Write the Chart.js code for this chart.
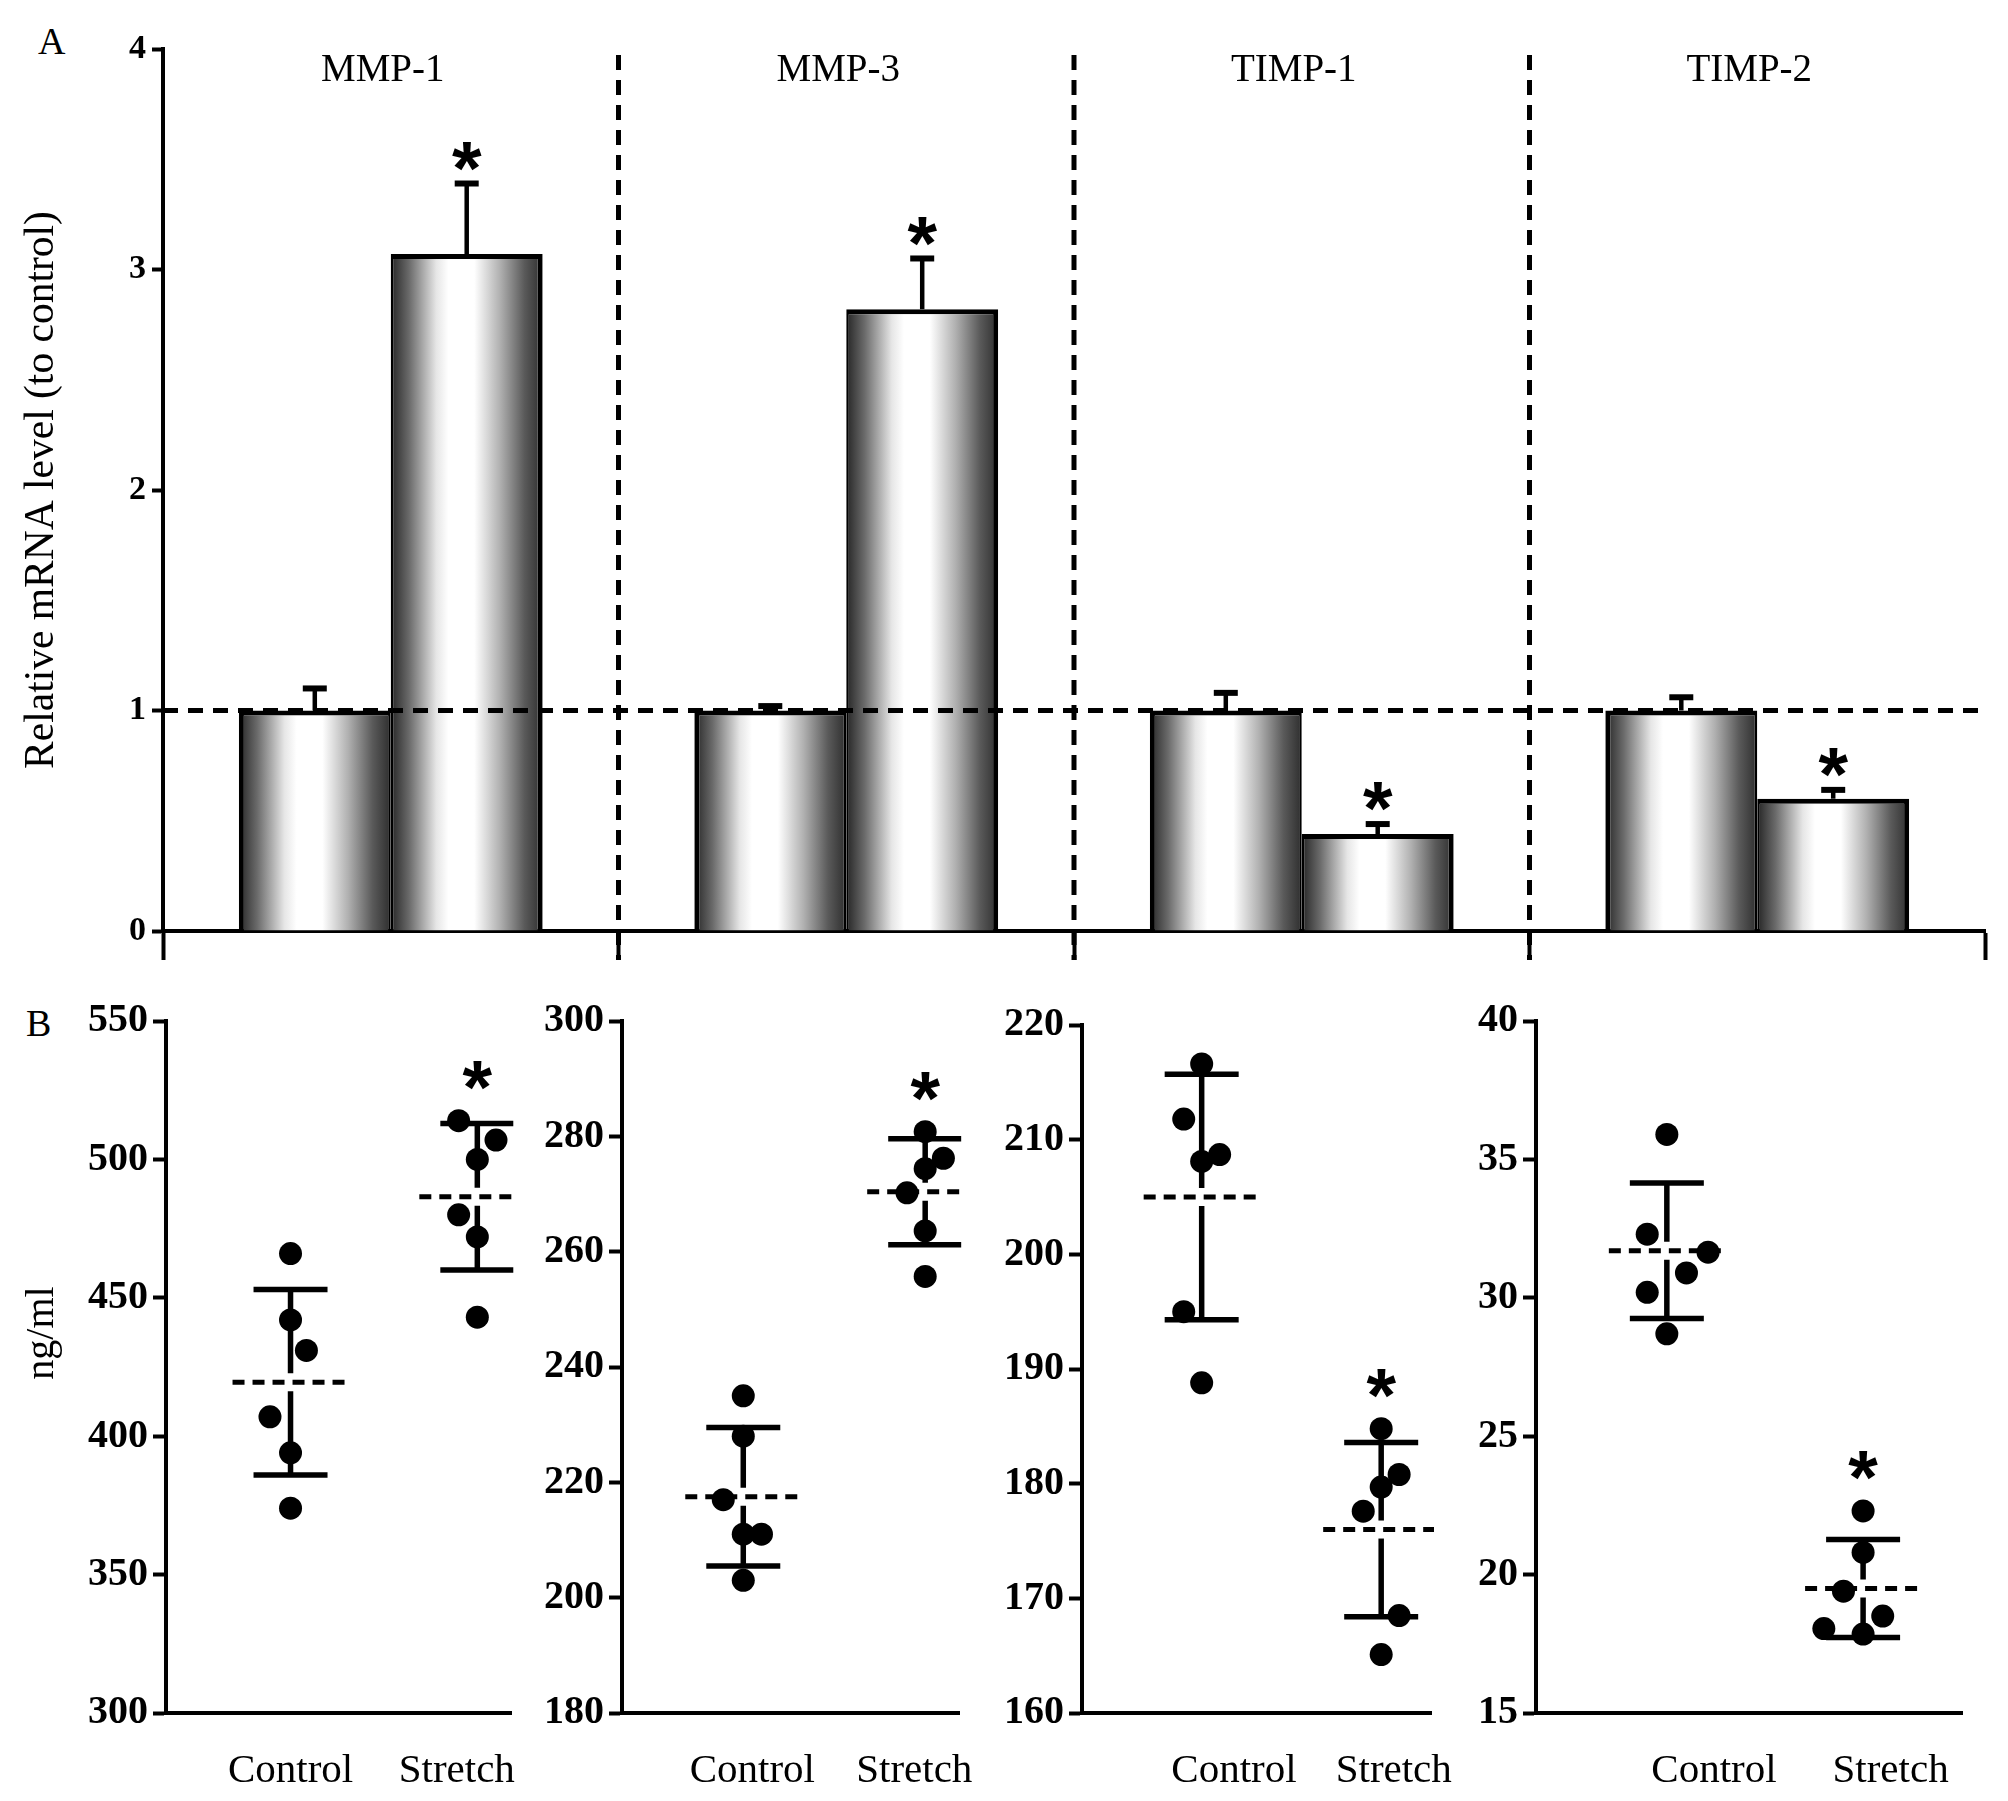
<!DOCTYPE html>
<html>
<head>
<meta charset="utf-8">
<title>MMP / TIMP mRNA and protein</title>
<script src="https://cdn.jsdelivr.net/npm/chart.js@4.4.0/dist/chart.umd.min.js"></script>
<style>
  html, body { margin: 0; padding: 0; background: #fff; }
  #page { position: relative; width: 2008px; height: 1801px; overflow: hidden; background: #fff; }
  canvas { position: absolute; }
  .panel { position: absolute; font-family: "Liberation Serif", serif; font-size: 38px; color: #000; line-height: 1; }
</style>
</head>
<body>
<div id="page">
  <div class="panel" style="left:38px; top:22px;">A</div>
  <div class="panel" style="left:26px; top:1004px;">B</div>
  <canvas id="mrna" width="2008" height="990" style="left:0; top:0;"></canvas>
</div>
<script>
// ---- data: panel A, relative mRNA level (to control) ----
const genes = ['MMP-1', 'MMP-3', 'TIMP-1', 'TIMP-2'];
const mrnaControl = [1.00, 1.00, 1.00, 1.00];
const mrnaControlErr = [0.10, 0.02, 0.08, 0.06];
const mrnaStretch = [3.07, 2.82, 0.44, 0.60];
const mrnaStretchErr = [0.32, 0.23, 0.045, 0.04];
const mrnaStretchSig = [true, true, true, true];
const mrnaTicks = [0, 1, 2, 3, 4];

// ---- data: panel B, protein (ng/ml), one sub-plot per gene ----
const groups = ['Control', 'Stretch'];
const elisaUnit = 'ng/ml';
const elisaTicks = [
  [300, 350, 400, 450, 500, 550],
  [180, 200, 220, 240, 260, 280, 300],
  [160, 170, 180, 190, 200, 210, 220],
  [15, 20, 25, 30, 35, 40]
];
const controlValues = [
  [466, 442, 431, 407, 394, 374],
  [235, 228, 217, 211, 211, 203],
  [216.6, 211.8, 208.7, 208.1, 195.0, 188.8],
  [35.9, 32.3, 31.65, 30.9, 30.2, 28.7]
];
const controlJitter = [
  [0, 0, 0.085, -0.11, 0, 0],
  [0, 0, -0.11, 0, 0.1, 0],
  [0, -0.1, 0.1, 0, -0.1, 0],
  [0, -0.1, 0.21, 0.1, -0.1, 0]
];
const controlMean = [419.5, 217.5, 205.0, 31.7];
const controlSD = [33.5, 12.0, 10.7, 2.45];
const stretchValues = [
  [514, 507, 500, 480, 472, 443],
  [280.8, 276.2, 274.4, 270.2, 263.6, 255.7],
  [184.8, 180.8, 179.7, 177.6, 168.5, 165.1],
  [22.3, 20.8, 19.4, 18.5, 18.05, 17.85]
];
const stretchJitter = [
  [-0.1, 0.1, 0, -0.1, 0, 0],
  [0, 0.1, 0, -0.1, 0, 0],
  [0, 0.1, 0, -0.1, 0.1, 0],
  [0, 0, -0.1, 0.1, -0.2, 0]
];
const stretchMean = [486.5, 270.4, 176.0, 19.5];
const stretchSD = [26.5, 9.2, 7.6, 1.77];
const stretchSig = [true, true, true, true];

// ---- layout ----
const serif = 'Liberation Serif';
const sans = '"Liberation Sans", Arial, sans-serif';
Chart.defaults.font.family = serif;
Chart.defaults.color = '#000';
const subAxisX = [166, 622, 1082, 1536];      // x of each sub-plot y axis
const subTop = [1021, 1021, 1025, 1021];      // top of each sub-plot area
const subLen = [366, 367, 386, 430];          // length of each x axis
const subLabelAt = [[1.0, 1.89], [1.05, 1.94], [1.18, 2.07], [1.24, 2.14]];
const unitPx = 198;                            // px between Control and Stretch
const xStart = 1 - 132 / unitPx;               // Control sits 132 px right of the axis

function barGradient(ctx, left, right) {
  const g = ctx.createLinearGradient(left, 0, right, 0);
  g.addColorStop(0.00, '#262626');
  g.addColorStop(0.12, '#6a6a6a');
  g.addColorStop(0.30, '#e6e6e6');
  g.addColorStop(0.38, '#ffffff');
  g.addColorStop(0.55, '#ffffff');
  g.addColorStop(0.72, '#b0b0b0');
  g.addColorStop(0.88, '#5a5a5a');
  g.addColorStop(1.00, '#2e2e2e');
  return g;
}

function asterisk(ctx, x, yCenter, size) {
  ctx.save();
  ctx.fillStyle = '#000';
  ctx.font = 'bold ' + size + 'px ' + sans;
  ctx.textAlign = 'center';
  ctx.textBaseline = 'alphabetic';
  ctx.fillText('*', x, yCenter + size * 0.58);
  ctx.restore();
}

function line(ctx, x1, y1, x2, y2, width, dash) {
  ctx.save();
  ctx.strokeStyle = '#000';
  ctx.lineWidth = width;
  ctx.setLineDash(dash || []);
  ctx.beginPath();
  ctx.moveTo(x1, y1);
  ctx.lineTo(x2, y2);
  ctx.stroke();
  ctx.restore();
}

// shaded bars: each bar gets its own left-to-right gradient
const shadedBars = {
  id: 'shadedBars',
  beforeDatasetsDraw(chart) {
    chart.data.datasets.forEach((ds, i) => {
      chart.getDatasetMeta(i).data.forEach(bar => {
        const half = bar.width / 2;
        const fill = barGradient(chart.ctx, bar.x - half, bar.x + half);
        bar.options = Object.assign({}, bar.options, { backgroundColor: fill });
      });
    });
  }
};

// error bars, reference lines, group titles and asterisks for panel A
const mrnaExtras = {
  id: 'mrnaExtras',
  afterDatasetsDraw(chart) {
    const ctx = chart.ctx;
    const xs = chart.scales.x, ys = chart.scales.y;
    const area = chart.chartArea;
    chart.data.datasets.forEach((ds, i) => {
      chart.getDatasetMeta(i).data.forEach((bar, j) => {
        const top = ys.getPixelForValue(ds.data[j] + ds.err[j]);
        line(ctx, bar.x, bar.y, bar.x, top, 4.5);
        line(ctx, bar.x - 12, top, bar.x + 12, top, 6);
        if (ds.sig && ds.sig[j]) asterisk(ctx, bar.x, top - 34, 76);
      });
    });
    const y1 = ys.getPixelForValue(1);
    line(ctx, area.left, y1, area.right, y1, 5, [15, 10]);
    for (let i = 1; i < genes.length; i++) {
      const xb = (xs.getPixelForValue(i - 1) + xs.getPixelForValue(i)) / 2;
      line(ctx, xb, area.top + 6, xb, area.bottom + 29, 5, [15, 10]);
    }
    ctx.save();
    ctx.fillStyle = '#000';
    ctx.font = '39px "' + serif + '", serif';
    ctx.textAlign = 'center';
    ctx.textBaseline = 'middle';
    genes.forEach((g, i) => ctx.fillText(g, xs.getPixelForValue(i) - 8, area.top + 22));
    ctx.restore();
  }
};

new Chart(document.getElementById('mrna'), {
  type: 'bar',
  data: {
    labels: genes,
    datasets: [
      { label: 'Control', data: mrnaControl, err: mrnaControlErr, sig: null,
        borderColor: '#000', backgroundColor: () => '#999',
        borderWidth: { top: 5, left: 5, right: 2.5, bottom: 0 } },
      { label: 'Stretch', data: mrnaStretch, err: mrnaStretchErr, sig: mrnaStretchSig,
        borderColor: '#000', backgroundColor: () => '#999',
        borderWidth: { top: 5, left: 2.5, right: 5, bottom: 0 } }
    ]
  },
  options: {
    responsive: false,
    animation: false,
    devicePixelRatio: 1,
    layout: { padding: { left: 0, top: 49, right: 23, bottom: 0 } },
    plugins: { legend: { display: false }, tooltip: { enabled: false }, colors: { enabled: false } },
    datasets: { bar: { categoryPercentage: 0.667, barPercentage: 1.0, borderSkipped: false } },
    scales: {
      x: {
        ticks: { display: false },
        grid: { offset: true, drawOnChartArea: false, tickLength: 29, tickWidth: 4, tickColor: '#000', color: '#000' },
        border: { color: '#000', width: 4 },
        afterFit: s => { s.height = 59; }
      },
      y: {
        min: mrnaTicks[0],
        max: mrnaTicks[mrnaTicks.length - 1],
        afterBuildTicks: s => { s.ticks = mrnaTicks.map(v => ({ value: v })); },
        ticks: { color: '#000', padding: 6, font: { family: serif, size: 34, weight: 'bold' } },
        grid: { drawOnChartArea: false, tickLength: 11, tickWidth: 4, tickColor: '#000' },
        border: { color: '#000', width: 4 },
        title: { display: true, text: 'Relative mRNA level (to control)', color: '#000',
                 font: { family: serif, size: 41.5 }, padding: { top: 17, bottom: 0 } },
        afterFit: s => { s.width = 163; }
      }
    }
  },
  plugins: [shadedBars, mrnaExtras]
});

// ---- panel B: four scatter plots with mean (dashed) and SD bars ----
const elisaExtras = {
  id: 'elisaExtras',
  afterDatasetsDraw(chart) {
    const ctx = chart.ctx;
    const k = chart.options.plugins.elisaExtras.index;
    const xs = chart.scales.x, ys = chart.scales.y;
    const area = chart.chartArea;
    const stats = [
      { mean: controlMean[k], sd: controlSD[k], values: controlValues[k], sig: false },
      { mean: stretchMean[k], sd: stretchSD[k], values: stretchValues[k], sig: stretchSig[k] }
    ];
    ctx.save();
    ctx.beginPath();
    ctx.rect(area.left, 0, area.right - area.left + 2, chart.height);
    ctx.clip();
    stats.forEach((s, g) => {
      const cx = xs.getPixelForValue(g + 1);
      const my = ys.getPixelForValue(s.mean);
      const top = ys.getPixelForValue(s.mean + s.sd);
      const bot = ys.getPixelForValue(s.mean - s.sd);
      line(ctx, cx, top, cx, my - 9, 5.5);
      line(ctx, cx, my + 9, cx, bot, 5.5);
      line(ctx, cx - 37, top, cx + 37, top, 5.5);
      line(ctx, cx - 37, bot, cx + 37, bot, 5.5);
      line(ctx, cx - 58, my, cx + 58, my, 5, [12, 8]);
      if (s.sig) {
        const highest = Math.min(top, ys.getPixelForValue(Math.max(...s.values)));
        asterisk(ctx, cx, highest - 52, 76);
      }
    });
    ctx.restore();
    // unit label of the first sub-plot, sitting a little above the axis middle
    if (k === 0) {
      ctx.save();
      ctx.fillStyle = '#000';
      ctx.font = '40px "' + serif + '", serif';
      ctx.textAlign = 'center';
      ctx.textBaseline = 'middle';
      ctx.translate(42 - (subAxisX[0] - 164), (area.top + area.bottom) / 2 - 34);
      ctx.rotate(-Math.PI / 2);
      ctx.fillText(elisaUnit, 0, 0);
      ctx.restore();
    }
  }
};

genes.forEach((gene, k) => {
  const canvas = document.createElement('canvas');
  canvas.width = 164 + subLen[k] + 20;
  canvas.height = 1801 - (subTop[k] - 31);
  canvas.style.left = (subAxisX[k] - 164) + 'px';
  canvas.style.top = (subTop[k] - 31) + 'px';
  document.getElementById('page').appendChild(canvas);

  const ticks = elisaTicks[k];
  const pts = [];
  controlValues[k].forEach((v, i) => pts.push({ x: 1 + controlJitter[k][i], y: v }));
  stretchValues[k].forEach((v, i) => pts.push({ x: 2 + stretchJitter[k][i], y: v }));

  new Chart(canvas, {
    type: 'scatter',
    data: {
      datasets: [{
        label: gene,
        data: pts,
        pointRadius: 11.5,
        pointBackgroundColor: '#000',
        pointBorderColor: '#000',
        pointBorderWidth: 0
      }]
    },
    options: {
      responsive: false,
      animation: false,
      devicePixelRatio: 1,
      layout: { padding: { left: 0, top: 31, right: 20, bottom: 0 } },
      plugins: { legend: { display: false }, tooltip: { enabled: false }, colors: { enabled: false },
                 elisaExtras: { index: k } },
      scales: {
        x: {
          type: 'linear',
          min: xStart,
          max: xStart + subLen[k] / unitPx,
          afterBuildTicks: s => { s.ticks = subLabelAt[k].map(v => ({ value: v })); },
          ticks: { color: '#000', padding: 34, maxRotation: 0, autoSkip: false,
                   font: { family: serif, size: 41 },
                   callback: (v, i) => groups[i] },
          grid: { display: false, drawTicks: false },
          border: { color: '#000', width: 4 },
          afterFit: s => { s.height = 88; }
        },
        y: {
          min: ticks[0],
          max: ticks[ticks.length - 1],
          afterBuildTicks: s => { s.ticks = ticks.map(v => ({ value: v })); },
          ticks: { color: '#000', padding: 5, font: { family: serif, size: 40, weight: 'bold' } },
          grid: { drawOnChartArea: false, tickLength: 13, tickWidth: 4, tickColor: '#000' },
          border: { color: '#000', width: 4 },
          afterFit: s => { s.width = 164; }
        }
      }
    },
    plugins: [elisaExtras]
  });
});
</script>
</body>
</html>
